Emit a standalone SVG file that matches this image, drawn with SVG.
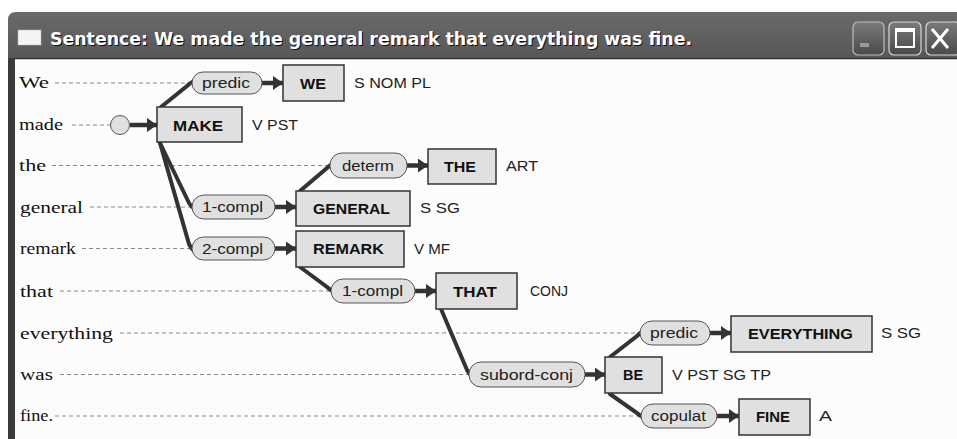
<svg xmlns="http://www.w3.org/2000/svg" width="957" height="439" viewBox="0 0 957 439">
<defs>
<linearGradient id="tb" x1="0" y1="0" x2="0" y2="1">
<stop offset="0" stop-color="#6a6a6a"/>
<stop offset="0.12" stop-color="#555"/>
<stop offset="1" stop-color="#3e3e3e"/>
</linearGradient>
<linearGradient id="btn" x1="0" y1="0" x2="0" y2="1">
<stop offset="0" stop-color="#7a7a7a"/>
<stop offset="1" stop-color="#4a4a4a"/>
</linearGradient>
<marker id="ah" markerUnits="userSpaceOnUse" markerWidth="10" markerHeight="14" refX="10" refY="7" orient="auto">
<path d="M0,0 L10,7 L0,14 z" fill="#333"/>
</marker>
</defs>
<style>
.word{font-family:"Liberation Serif","Times New Roman",serif;font-size:17px;fill:#111}
.dash{stroke:#8a8a8a;stroke-width:1;stroke-dasharray:4 3;fill:none}
.pill{fill:#e0e0e0;stroke:#555;stroke-width:1}
.pt{font-family:"Liberation Sans",Arial,sans-serif;font-size:14px;fill:#222}
.box{fill:#e0e0e0;stroke:#333;stroke-width:1.5}
.bt{font-family:"Liberation Sans",Arial,sans-serif;font-size:15px;font-weight:bold;fill:#111}
.gr{font-family:"Liberation Sans",Arial,sans-serif;font-size:14px;fill:#222}
.arr{stroke:#333;stroke-width:4.5;fill:none;marker-end:url(#ah)}
.con{stroke:#333;stroke-width:4;fill:none;stroke-linecap:round}
</style>
<rect width="957" height="439" fill="#ffffff"/>
<g id="window">
<path d="M8,439 L8,20 Q8,12 16,12 L957,12 L957,59 L15,59 L15,439 Z" fill="url(#tb)"/>
<rect x="8" y="58" width="7" height="381" fill="#3a3a3a"/>
<rect x="15" y="58" width="942" height="1.5" fill="#2e2e2e"/>
<rect x="15" y="59.5" width="942" height="379.5" fill="#fcfcfc"/>
<rect x="18" y="30" width="23" height="15" fill="#f4f4f4" stroke="#bbb" stroke-width="0.5"/>
<text x="51" y="46" font-family="'DejaVu Sans',Verdana,sans-serif" font-size="17" font-weight="bold" fill="#111" textLength="642" lengthAdjust="spacingAndGlyphs">Sentence: We made the general remark that everything was fine.</text>
<text x="50" y="45" font-family="'DejaVu Sans',Verdana,sans-serif" font-size="17" font-weight="bold" fill="#ffffff" textLength="642" lengthAdjust="spacingAndGlyphs">Sentence: We made the general remark that everything was fine.</text>
<rect x="853" y="22" width="31" height="33" rx="5" fill="url(#btn)" stroke="#bdbdbd" stroke-width="1.2"/>
<rect x="860" y="43" width="9" height="4" fill="#9a9a9a"/>
<rect x="889" y="22" width="32" height="33" rx="5" fill="url(#btn)" stroke="#d8d8d8" stroke-width="1.2"/>
<rect x="896" y="29" width="18" height="18" fill="none" stroke="#fff" stroke-width="2"/>
<rect x="896" y="29" width="18" height="3" fill="#fff"/>
<rect x="926" y="22" width="34" height="33" rx="5" fill="url(#btn)" stroke="#d8d8d8" stroke-width="1.2"/>
<path d="M932,29 L948,48 M948,29 L932,48" stroke="#fff" stroke-width="3"/>
</g>
<g id="words">
<text class="word" x="19" y="88" textLength="30" lengthAdjust="spacingAndGlyphs">We</text>
<text class="word" x="19" y="130" textLength="44" lengthAdjust="spacingAndGlyphs">made</text>
<text class="word" x="19" y="171" textLength="27" lengthAdjust="spacingAndGlyphs">the</text>
<text class="word" x="20" y="213" textLength="63" lengthAdjust="spacingAndGlyphs">general</text>
<text class="word" x="20" y="254" textLength="56" lengthAdjust="spacingAndGlyphs">remark</text>
<text class="word" x="20" y="297" textLength="33" lengthAdjust="spacingAndGlyphs">that</text>
<text class="word" x="20" y="339" textLength="93" lengthAdjust="spacingAndGlyphs">everything</text>
<text class="word" x="20" y="380" textLength="33" lengthAdjust="spacingAndGlyphs">was</text>
<text class="word" x="20" y="421" textLength="33" lengthAdjust="spacingAndGlyphs">fine.</text>
</g>
<g id="guides">
<line class="dash" x1="55" y1="83" x2="192" y2="83"/>
<line class="dash" x1="72" y1="125" x2="110" y2="125"/>
<line class="dash" x1="52" y1="165.5" x2="330" y2="165.5"/>
<line class="dash" x1="90" y1="207" x2="192" y2="207"/>
<line class="dash" x1="82" y1="248.5" x2="192" y2="248.5"/>
<line class="dash" x1="60" y1="291" x2="331" y2="291"/>
<line class="dash" x1="120" y1="333" x2="640" y2="333"/>
<line class="dash" x1="60" y1="374.5" x2="469" y2="374.5"/>
<line class="dash" x1="55" y1="416" x2="641" y2="416"/>
</g>
<g id="connectors">
<path class="con" d="M161,107 L187,86 Q190,83 194,81"/>
<path class="con" d="M160,143 L189,203 Q191,207 195,209"/>
<path class="con" d="M160,143 L189,244 Q191,249 195,251"/>
<path class="con" d="M300,191 L327,168 Q330,165 334,163"/>
<path class="con" d="M300,267 L327,287 Q330,290 334,292"/>
<path class="con" d="M441,309 L467,370 Q469,374 472,376"/>
<path class="con" d="M610,357 L637,336 Q640,333 643,331"/>
<path class="con" d="M610,394 L637,413 Q640,416 644,418"/>
<line class="arr" x1="262" y1="83" x2="283" y2="83"/>
<line class="arr" x1="130" y1="125" x2="157" y2="125"/>
<line class="arr" x1="407" y1="165.5" x2="428" y2="165.5"/>
<line class="arr" x1="275" y1="207" x2="296" y2="207"/>
<line class="arr" x1="275" y1="248.5" x2="296" y2="248.5"/>
<line class="arr" x1="415" y1="291" x2="436" y2="291"/>
<line class="arr" x1="710" y1="333" x2="731" y2="333"/>
<line class="arr" x1="585" y1="374.5" x2="605" y2="374.5"/>
<line class="arr" x1="717" y1="416" x2="739" y2="416"/>
</g>
<g id="rel-predic-we"><rect class="pill" x="192" y="72" width="70" height="22" rx="11"/><text class="pt" x="202" y="88" textLength="48" lengthAdjust="spacingAndGlyphs">predic</text></g>
<g id="rel-root"><circle class="pill" cx="120" cy="125" r="9.5"/></g>
<g id="rel-determ"><rect class="pill" x="330" y="153" width="77" height="25" rx="12"/><text class="pt" x="342" y="170.5" textLength="52" lengthAdjust="spacingAndGlyphs">determ</text></g>
<g id="rel-1compl-general"><rect class="pill" x="192" y="195" width="83" height="24" rx="12"/><text class="pt" x="202" y="212" textLength="61" lengthAdjust="spacingAndGlyphs">1-compl</text></g>
<g id="rel-2compl"><rect class="pill" x="192" y="237" width="83" height="23" rx="11.5"/><text class="pt" x="202" y="253.5" textLength="61" lengthAdjust="spacingAndGlyphs">2-compl</text></g>
<g id="rel-1compl-that"><rect class="pill" x="331" y="279" width="84" height="24" rx="12"/><text class="pt" x="342" y="296" textLength="61" lengthAdjust="spacingAndGlyphs">1-compl</text></g>
<g id="rel-predic-every"><rect class="pill" x="640" y="321" width="70" height="24" rx="12"/><text class="pt" x="650" y="338" textLength="48" lengthAdjust="spacingAndGlyphs">predic</text></g>
<g id="rel-subord"><rect class="pill" x="469" y="362" width="116" height="25" rx="12"/><text class="pt" x="480" y="379.5" textLength="93" lengthAdjust="spacingAndGlyphs">subord-conj</text></g>
<g id="rel-copulat"><rect class="pill" x="641" y="404" width="76" height="24" rx="12"/><text class="pt" x="651" y="421" textLength="55" lengthAdjust="spacingAndGlyphs">copulat</text></g>
<g id="node-we"><rect class="box" x="283" y="65" width="61" height="36"/><text class="bt" x="300" y="88.5" textLength="26" lengthAdjust="spacingAndGlyphs">WE</text><text class="gr" x="354" y="88" textLength="77" lengthAdjust="spacingAndGlyphs">S NOM PL</text></g>
<g id="node-make"><rect class="box" x="157" y="107" width="85" height="35"/><text class="bt" x="173" y="130.5" textLength="50" lengthAdjust="spacingAndGlyphs">MAKE</text><text class="gr" x="252" y="130" textLength="46" lengthAdjust="spacingAndGlyphs">V PST</text></g>
<g id="node-the"><rect class="box" x="428" y="149" width="68" height="35"/><text class="bt" x="444" y="171.5" textLength="32" lengthAdjust="spacingAndGlyphs">THE</text><text class="gr" x="506" y="171" textLength="32" lengthAdjust="spacingAndGlyphs">ART</text></g>
<g id="node-general"><rect class="box" x="296" y="191" width="114" height="35"/><text class="bt" x="313" y="213.5" textLength="77" lengthAdjust="spacingAndGlyphs">GENERAL</text><text class="gr" x="420" y="213" textLength="40" lengthAdjust="spacingAndGlyphs">S SG</text></g>
<g id="node-remark"><rect class="box" x="296" y="231" width="108" height="36"/><text class="bt" x="313" y="254" textLength="71" lengthAdjust="spacingAndGlyphs">REMARK</text><text class="gr" x="414" y="254" textLength="36" lengthAdjust="spacingAndGlyphs">V MF</text></g>
<g id="node-that"><rect class="box" x="436" y="273" width="81" height="36"/><text class="bt" x="453" y="296.5" textLength="44" lengthAdjust="spacingAndGlyphs">THAT</text><text class="gr" x="530" y="296" textLength="38" lengthAdjust="spacingAndGlyphs">CONJ</text></g>
<g id="node-everything"><rect class="box" x="731" y="316" width="141" height="36"/><text class="bt" x="748" y="338.5" textLength="105" lengthAdjust="spacingAndGlyphs">EVERYTHING</text><text class="gr" x="881" y="338" textLength="40" lengthAdjust="spacingAndGlyphs">S SG</text></g>
<g id="node-be"><rect class="box" x="605" y="357" width="57" height="36"/><text class="bt" x="623" y="380" textLength="20" lengthAdjust="spacingAndGlyphs">BE</text><text class="gr" x="672" y="380" textLength="99" lengthAdjust="spacingAndGlyphs">V PST SG TP</text></g>
<g id="node-fine"><rect class="box" x="739" y="399" width="71" height="36"/><text class="bt" x="756" y="421.5" textLength="34" lengthAdjust="spacingAndGlyphs">FINE</text><text class="gr" x="819" y="421" textLength="13" lengthAdjust="spacingAndGlyphs">A</text></g>
</svg>
